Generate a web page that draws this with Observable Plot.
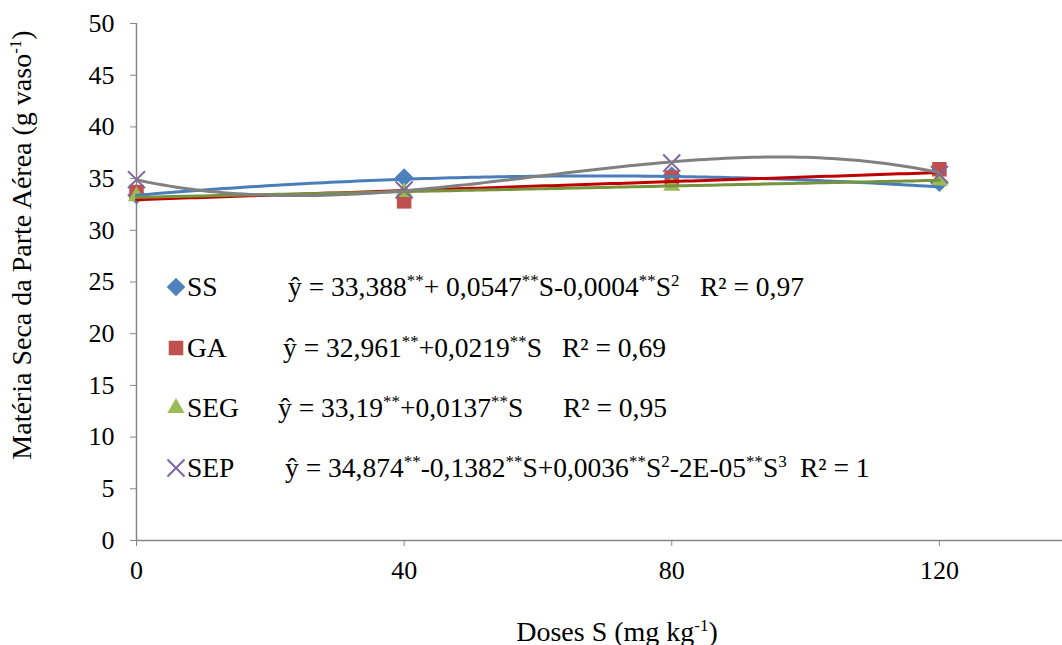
<!DOCTYPE html>
<html>
<head>
<meta charset="utf-8">
<script src="https://cdn.jsdelivr.net/npm/d3@7"></script>
<script src="https://cdn.jsdelivr.net/npm/@observablehq/plot@0.6"></script>
<style>
  html, body { margin: 0; padding: 0; background: #fff; }
  #chart svg { display: block; }
  #chart svg text, #chart svg tspan { font-family: "Liberation Serif", "DejaVu Serif", serif !important; }
</style>
</head>
<body>
<div id="chart"></div>
<script>
// ---- data ----
const doses = [0, 40, 80, 120];
const xTicks = [0, 40, 80, 120];
const yTicks = [0, 5, 10, 15, 20, 25, 30, 35, 40, 45, 50];

const seriesNames = ["SS", "GA", "SEG", "SEP"];
const valuesSS  = [33.4, 35.1, 35.3, 34.6];
const valuesGA  = [33.7, 32.8, 35.1, 35.9];
const valuesSEG = [33.3, 33.7, 34.3, 34.8];
const valuesSEP = [34.9, 33.9, 36.5, 35.4];

// trend-line coefficients as printed in the chart (c0 + c1*S + c2*S^2 + c3*S^3)
const coefSS  = [33.388, 0.0547, -0.0004];
const coefGA  = [32.961, 0.0219];
const coefSEG = [33.19, 0.0137];
const coefSEP = [34.874, -0.1382, 0.0036, -0.00002];

const r2Labels = ["R² = 0,97", "R² = 0,69", "R² = 0,95", "R² = 1"];

// ---- build tables ----
const seriesValues = [valuesSS, valuesGA, valuesSEG, valuesSEP];
const coefs = [coefSS, coefGA, coefSEG, coefSEP];
const points = seriesNames.map((name, i) =>
  doses.map((d, j) => ({series: name, x: d, y: seriesValues[i][j]})));
const sampleX = d3.range(0, 120.01, 1);
const trends = coefs.map((c, i) =>
  sampleX.map(x => ({series: seriesNames[i], x, y: c.reduce((s, k, p) => s + k * Math.pow(x, p), 0)})));

const markerFill = ["#4F81BD", "#C0504D", "#9BBB59", "none"];
const markerStroke = ["none", "none", "none", "#8064A2"];
const markerSymbol = ["diamond2", "square", "triangle", "times"];
const markerR = [8.4, 8.2, 6.4, 7.8];
const lineColor = ["#4A7EBB", "#C00000", "#77933C", "#808080"];

const axisColor = "#868686";
const font = "Liberation Serif, DejaVu Serif, serif";
const fsTick = 26;
const fsLegend = 27.5;
const fsTitle = 28;

const marks = [
  Plot.ruleX([0], {stroke: axisColor, strokeWidth: 1.5}),
  Plot.ruleY([0], {stroke: axisColor, strokeWidth: 1.5}),
  Plot.axisY({ticks: yTicks, tickSize: 6, tickPadding: 16, stroke: axisColor, label: null, fontSize: fsTick, fill: "#000"}),
  Plot.axisX({ticks: xTicks, tickSize: 6, tickPadding: 14, stroke: axisColor, label: null, fontSize: fsTick, fill: "#000"})
];
points.forEach((pts, i) => {
  marks.push(Plot.dot(pts, {
    x: "x", y: "y", symbol: () => markerSymbol[i], r: markerR[i],
    fill: markerFill[i], stroke: markerStroke[i], strokeWidth: markerStroke[i] === "none" ? 0 : 2
  }));
});
trends.forEach((t, i) => {
  marks.push(Plot.line(t, {x: "x", y: "y", stroke: lineColor[i], strokeWidth: 3, curve: "linear"}));
});

const chart = Plot.plot({
  width: 1062,
  height: 645,
  marginLeft: 136,
  marginRight: 0,
  marginTop: 23,
  marginBottom: 105,
  x: {domain: [0, 138.4]},
  y: {domain: [0, 50]},
  style: {fontFamily: font, fontSize: fsTick + "px", color: "#000", background: "#fff", overflow: "visible"},
  marks
});
document.getElementById("chart").appendChild(chart);

// ---- text additions (axis titles and legend) ----
const svg = d3.select(chart);

function rich(g, x, y, parts, size, anchor) {
  const t = g.append("text").attr("x", x).attr("y", y)
    .attr("font-family", font).attr("font-size", size).attr("fill", "#000")
    .attr("text-anchor", anchor || "start")
    .attr("xml:space", "preserve");
  let back = 0;
  const lift = Math.round(size * 0.36);
  parts.forEach(([s, sup]) => {
    const sp = t.append("tspan").text(s);
    if (sup) {
      sp.attr("dy", -lift + back).attr("font-size", Math.round(size * 0.6));
      back = lift;
    } else {
      if (back) sp.attr("dy", back);
      back = 0;
    }
  });
  return t;
}

// y axis title
const yt = svg.append("g").attr("transform", "translate(31,245) rotate(-90)");
rich(yt, 0, 0, [["Matéria Seca da Parte Aérea (g vaso"], ["-1", true], [")"]], fsTitle, "middle");

// x axis title
rich(svg, 617, 641, [["Doses S (mg kg"], ["-1", true], [")"]], fsTitle, "middle");

// legend
const legendY = [287, 348, 408, 468];
const eqX = [288, 283, 278, 285];
const r2X = [700, 562, 563, 800];
const equations = [
  [["ŷ = 33,388"], ["**", true], ["+ 0,0547"], ["**", true], ["S-0,0004"], ["**", true], ["S"], ["2", true]],
  [["ŷ = 32,961"], ["**", true], ["+0,0219"], ["**", true], ["S"]],
  [["ŷ = 33,19"], ["**", true], ["+0,0137"], ["**", true], ["S"]],
  [["ŷ = 34,874"], ["**", true], ["-0,1382"], ["**", true], ["S+0,0036"], ["**", true], ["S"], ["2", true], ["-2E-05"], ["**", true], ["S"], ["3", true]]
];
const lg = svg.append("g");
const symbolTypes = [d3.symbolDiamond2, d3.symbolSquare, d3.symbolTriangle, d3.symbolTimes];
seriesNames.forEach((name, i) => {
  const cy = legendY[i];
  lg.append("path")
    .attr("transform", `translate(176,${cy})`)
    .attr("d", d3.symbol(symbolTypes[i], Math.PI * markerR[i] * markerR[i])())
    .attr("fill", markerFill[i])
    .attr("stroke", markerStroke[i])
    .attr("stroke-width", markerStroke[i] === "none" ? 0 : 2);
  rich(lg, 187, cy + 9, [[name]], fsLegend);
  rich(lg, eqX[i], cy + 9, equations[i], fsLegend);
  rich(lg, r2X[i], cy + 9, [[r2Labels[i]]], fsLegend);
});
</script>
</body>
</html>
